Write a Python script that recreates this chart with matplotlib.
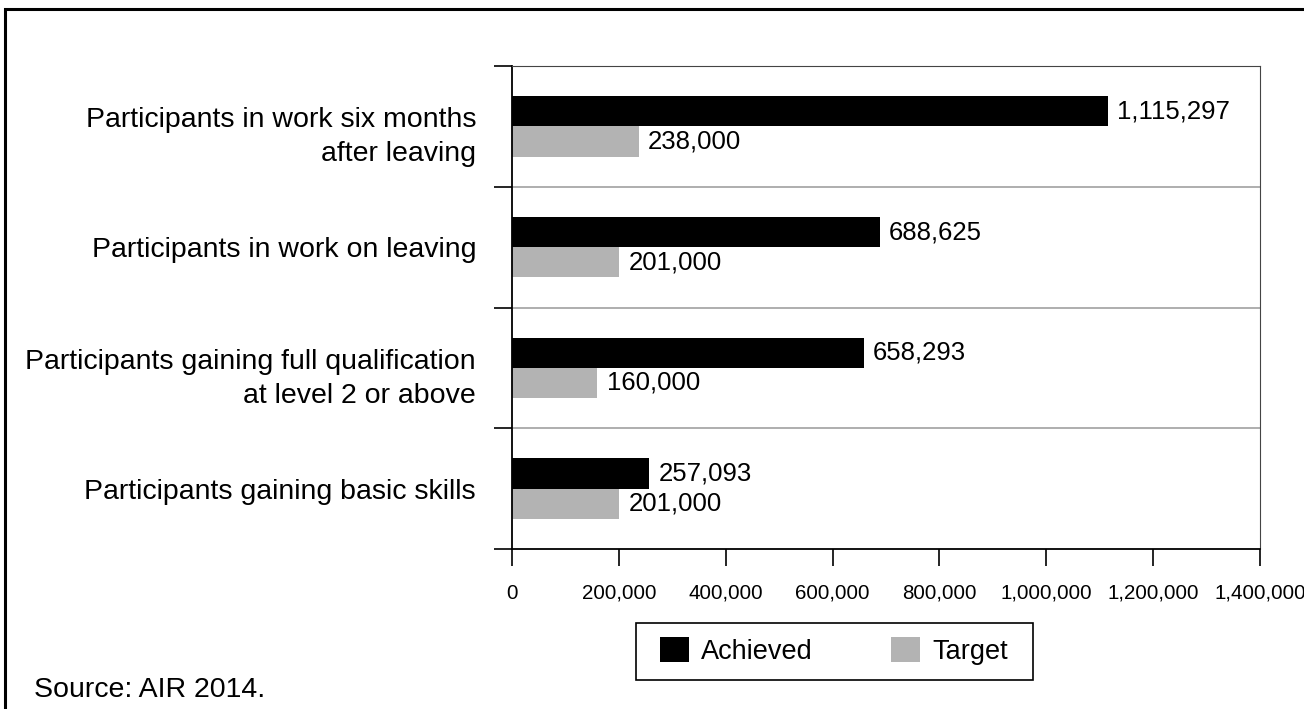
import matplotlib.pyplot as plt
import matplotlib.transforms as mtransforms
from matplotlib.patches import Rectangle
from matplotlib.ticker import FuncFormatter

plt.rcParams['font.family'] = ['Liberation Sans', 'DejaVu Sans']

# Outcome categories, bottom to top
categories = [
    'Participants gaining basic skills',
    'Participants gaining full qualification\nat level 2 or above',
    'Participants in work on leaving',
    'Participants in work six months\nafter leaving',
]
achieved = [257093, 658293, 688625, 1115297]
target = [201000, 160000, 201000, 238000]
x_ticks = [0, 200000, 400000, 600000, 800000, 1000000, 1200000, 1400000]

W, H = 1304, 709
fig = plt.figure(figsize=(W / 100, H / 100), dpi=100)
ax = fig.add_axes([512 / W, 1 - 549 / H, 748 / W, 483 / H])

pos = list(range(len(categories)))
h = 0.25
ax.barh([p + h / 2 for p in pos], achieved, height=h, color='black', label='Achieved')
ax.barh([p - h / 2 for p in pos], target, height=h, color='#b3b3b3', label='Target')

for p, a, t in zip(pos, achieved, target):
    ax.text(a + 17000, p + h / 2, f'{a:,}', va='center', ha='left', fontsize=18.5)
    ax.text(t + 17000, p - h / 2, f'{t:,}', va='center', ha='left', fontsize=18.5)

ax.set_xlim(0, 1400000)
ax.set_ylim(-0.5, 3.5)

# category labels drawn as text left of the axis; two-line ones sit a bit lower
lab_x = mtransforms.blended_transform_factory(ax.transAxes, ax.transData)
for p, name in zip(pos, categories):
    tr = lab_x
    if '\n' in name:
        tr = lab_x + mtransforms.ScaledTranslation(0, -4 / 100, fig.dpi_scale_trans)
    ax.text(-36 / 748, p, name, transform=tr, ha='right', va='center_baseline',
            multialignment='right', fontsize=20.5, linespacing=1.4)

ax.set_yticks([])
ax.set_yticks([-0.5, 0.5, 1.5, 2.5, 3.5], minor=True)
ax.tick_params(axis='y', which='minor', length=13, width=1.2, direction='out')

ax.set_xticks(x_ticks)
ax.xaxis.set_major_formatter(FuncFormatter(lambda v, _: f'{int(v):,}'))
ax.tick_params(axis='x', length=12, width=1.2, direction='out', pad=13, labelsize=14.8)

for yb in [0.5, 1.5, 2.5]:
    ax.axhline(yb, color='#999999', lw=1.1, zorder=0)

ax.spines['left'].set_linewidth(1.3)
ax.spines['bottom'].set_linewidth(1.3)
ax.spines['top'].set_color('#444444')
ax.spines['right'].set_color('#444444')

# legend entries without their own frame; a plain box is drawn around them
fig.legend(loc='center', bbox_to_anchor=(834 / W, 1 - 651 / H),
           ncol=2, fontsize=19.5, frameon=False,
           handlelength=1.05, handleheight=1.05,
           columnspacing=2.9, handletextpad=0.45, borderpad=0, borderaxespad=0)
fig.patches.append(Rectangle((636 / W, 1 - 680 / H), 397 / W, 57 / H,
                             transform=fig.transFigure, fill=False,
                             edgecolor='black', lw=1.2))

fig.text(34 / W, 1 - 690 / H, 'Source: AIR 2014.', fontsize=20.5, va='center', ha='left')

# outer frame around the whole figure
fig.patches.append(Rectangle((5 / W, -0.1), 1.2, 1 - 9 / H + 0.1,
                             transform=fig.transFigure, fill=False,
                             edgecolor='black', lw=2.2))

fig.savefig('out.png', dpi=100)
